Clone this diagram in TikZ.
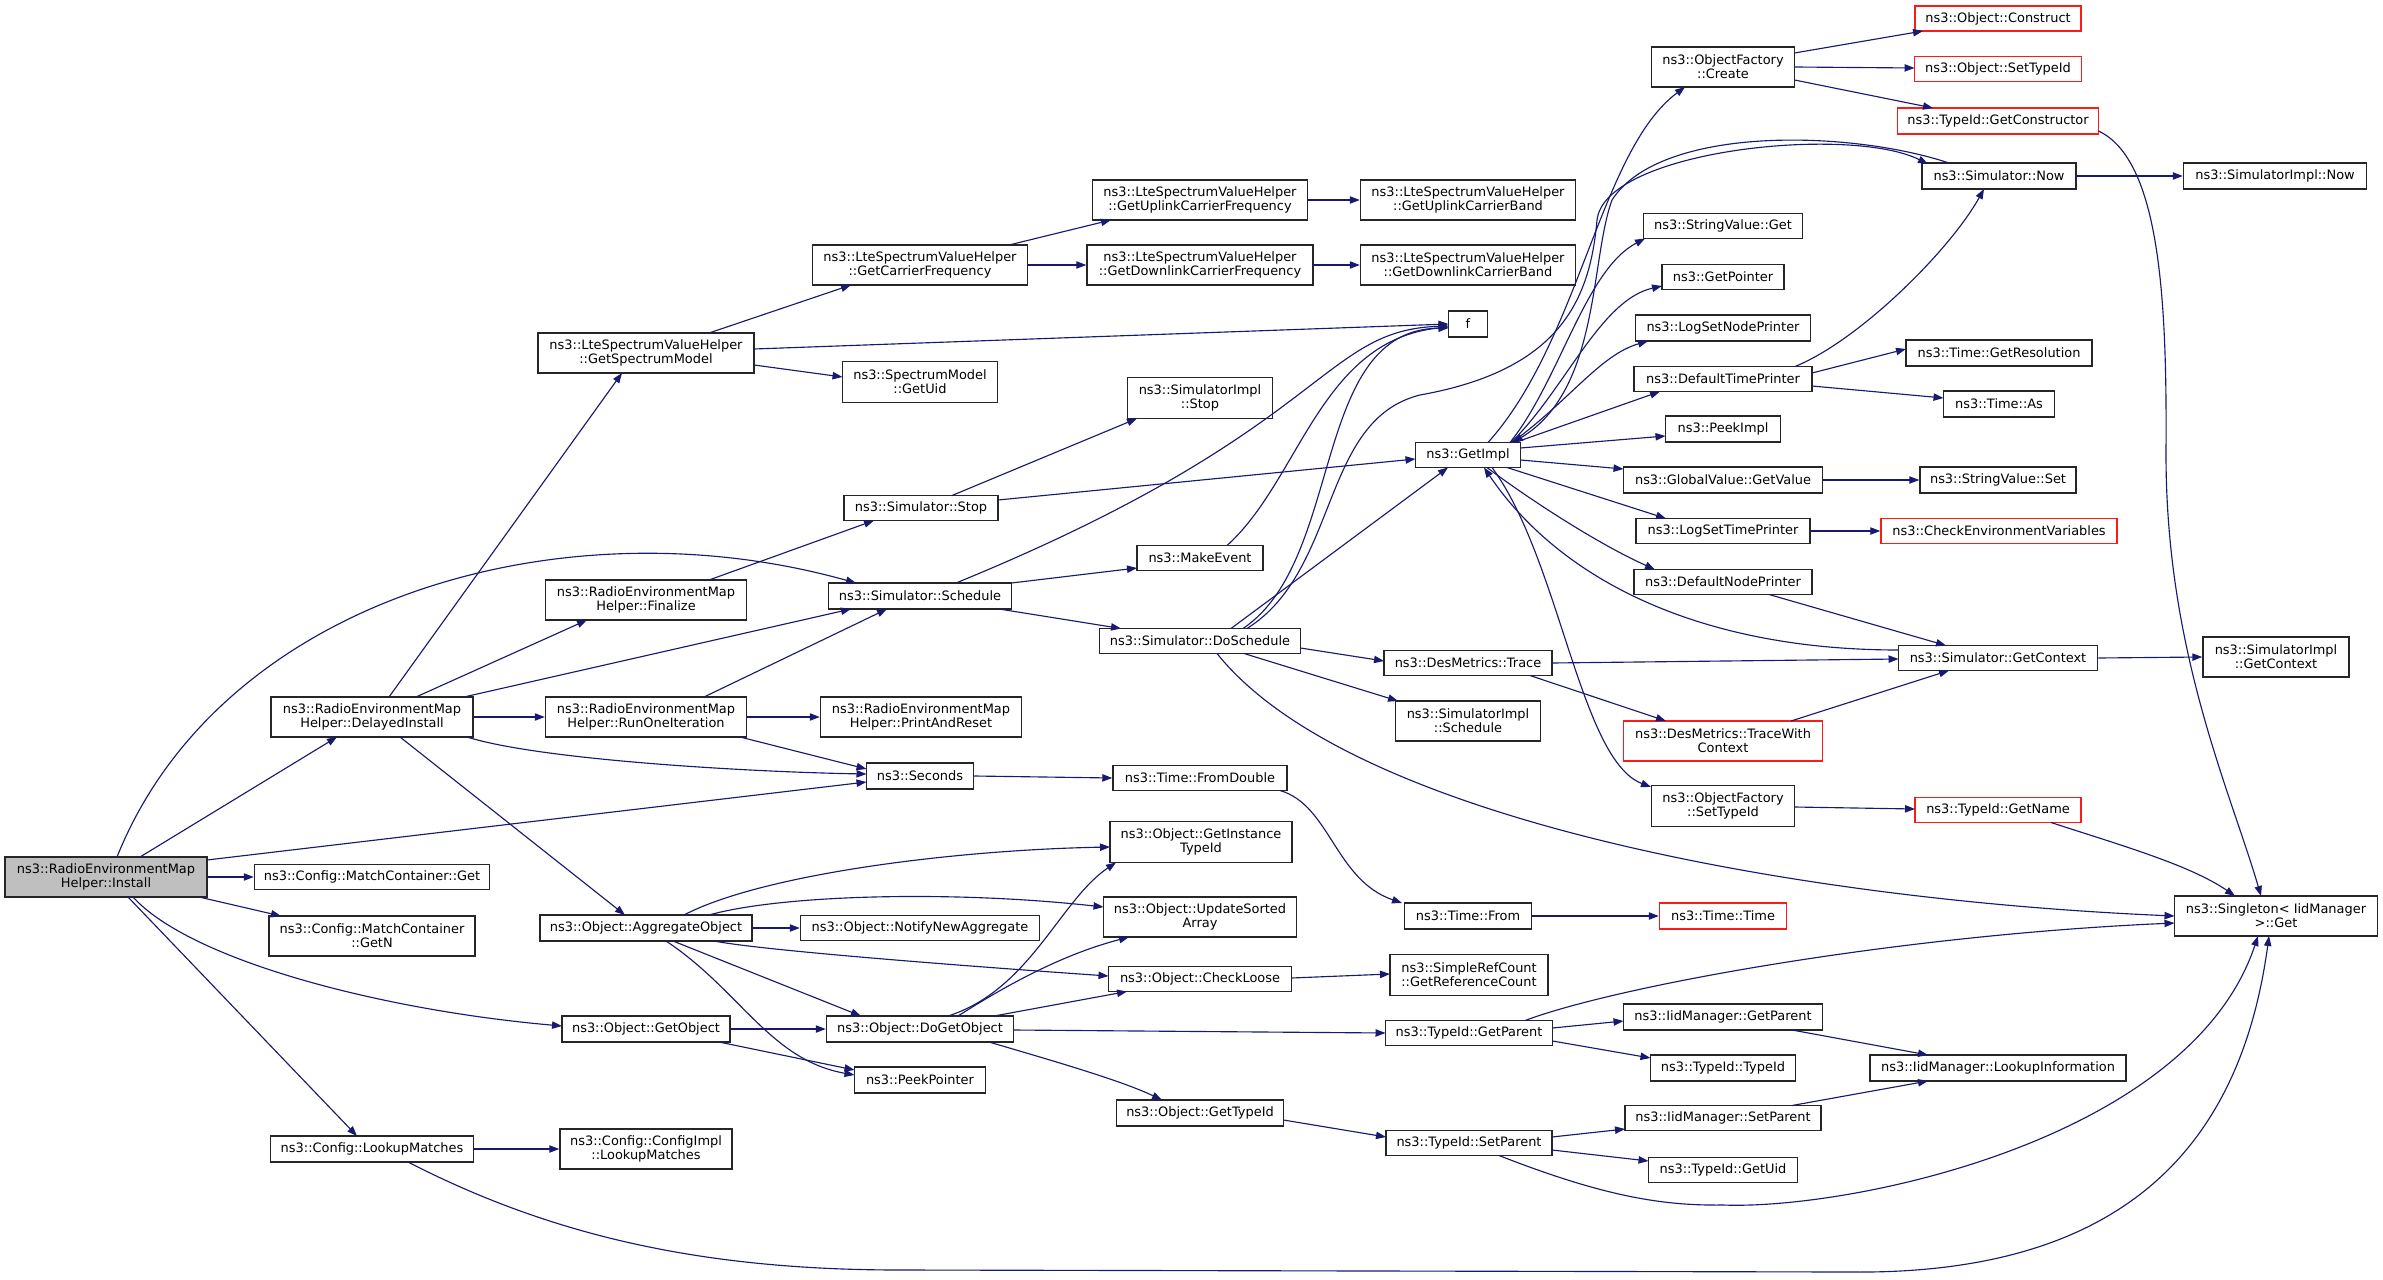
\documentclass[tikz,border=0pt]{standalone}
\usepackage{fontspec}
\setmainfont{DejaVu Sans}
\usetikzlibrary{arrows.meta,calc}
\definecolor{edgeblue}{HTML}{191970}
\definecolor{boxgray}{HTML}{262626}
\definecolor{boxred}{HTML}{FF1A1A}
\definecolor{rootgray}{HTML}{BFBFBF}
\tikzset{
  box/.style={draw=boxgray, line width=1.1pt, fill=white, inner sep=1pt, align=center,
              font=\fontsize{9.7}{10.5}\selectfont},
  redbox/.style={box, draw=boxred},
  rootbox/.style={box, fill=rootgray},
  sz/.style 2 args={minimum width=#1*0.75pt, minimum height=#2*0.75pt},
  edge/.style={draw=edgeblue, line width=0.85pt, -{Triangle[length=7.5pt,width=5.5pt]}}
}
\begin{document}
\begin{tikzpicture}[x=0.75pt,y=-0.75pt]
\fill[white] (0,0) rectangle (2383,1280);
\useasboundingbox (0,0) rectangle (2383,1280);

% nodes
\node[rootbox, sz={202}{40}] (install) at (106,877) {ns3::RadioEnvironmentMap\\Helper::Install};
\node[box, sz={202}{40}] (delayed) at (372,717) {ns3::RadioEnvironmentMap\\Helper::DelayedInstall};
\node[box, sz={235}{25}] (mcget) at (372,877) {ns3::Config::MatchContainer::Get};
\node[box, sz={206}{40}] (mcgetn) at (372,936) {ns3::Config::MatchContainer\\::GetN};
\node[box, sz={203}{26}] (lookup) at (372,1149) {ns3::Config::LookupMatches};
\node[box, sz={216}{40}] (specmodel) at (646,353) {ns3::LteSpectrumValueHelper\\::GetSpectrumModel};
\node[box, sz={201}{40}] (finalize) at (646,600) {ns3::RadioEnvironmentMap\\Helper::Finalize};
\node[box, sz={201}{40}] (runone) at (646,717) {ns3::RadioEnvironmentMap\\Helper::RunOneIteration};
\node[box, sz={212}{26}] (aggregate) at (646,928) {ns3::Object::AggregateObject};
\node[box, sz={168}{26}] (getobject) at (646,1029) {ns3::Object::GetObject};
\node[box, sz={172}{40}] (configimpl) at (646,1149) {ns3::Config::ConfigImpl\\::LookupMatches};
\node[box, sz={215}{40}] (carrierfreq) at (920,265) {ns3::LteSpectrumValueHelper\\::GetCarrierFrequency};
\node[box, sz={155}{41}] (specuid) at (920,382) {ns3::SpectrumModel\\::GetUid};
\node[box, sz={154}{25}] (simstop) at (921,508) {ns3::Simulator::Stop};
\node[box, sz={183}{26}] (schedule) at (920,596) {ns3::Simulator::Schedule};
\node[box, sz={201}{40}] (printreset) at (921,717) {ns3::RadioEnvironmentMap\\Helper::PrintAndReset};
\node[box, sz={107}{26}] (seconds) at (920,776) {ns3::Seconds};
\node[box, sz={239}{25}] (notify) at (920,928) {ns3::Object::NotifyNewAggregate};
\node[box, sz={187}{26}] (dogetobject) at (920,1029) {ns3::Object::DoGetObject};
\node[box, sz={131}{26}] (peekpointer) at (920,1080) {ns3::PeekPointer};
\node[box, sz={215}{40}] (upfreq) at (1200,200) {ns3::LteSpectrumValueHelper\\::GetUplinkCarrierFrequency};
\node[box, sz={226}{40}] (downfreq) at (1200,265) {ns3::LteSpectrumValueHelper\\::GetDownlinkCarrierFrequency};
\node[box, sz={145}{41}] (implstop) at (1200,398) {ns3::SimulatorImpl\\::Stop};
\node[box, sz={126}{25}] (makeevent) at (1200,558) {ns3::MakeEvent};
\node[box, sz={201}{25}] (doschedule) at (1200,641) {ns3::Simulator::DoSchedule};
\node[box, sz={174}{25}] (fromdouble) at (1200,778) {ns3::Time::FromDouble};
\node[box, sz={182}{41}] (instancetypeid) at (1201,842) {ns3::Object::GetInstance\\TypeId};
\node[box, sz={193}{40}] (updatesorted) at (1200,917) {ns3::Object::UpdateSorted\\Array};
\node[box, sz={183}{25}] (checkloose) at (1200,979) {ns3::Object::CheckLoose};
\node[box, sz={167}{26}] (gettypeid) at (1200,1113) {ns3::Object::GetTypeId};
\node[box, sz={215}{40}] (upband) at (1468,200) {ns3::LteSpectrumValueHelper\\::GetUplinkCarrierBand};
\node[box, sz={215}{40}] (downband) at (1468,265) {ns3::LteSpectrumValueHelper\\::GetDownlinkCarrierBand};
\node[box, sz={39}{26}] (f) at (1468,324) {f};
\node[box, sz={105}{25}] (getimpl) at (1468,455) {ns3::GetImpl};
\node[box, sz={168}{25}] (trace) at (1468,663) {ns3::DesMetrics::Trace};
\node[box, sz={145}{40}] (implschedule) at (1468,721) {ns3::SimulatorImpl\\::Schedule};
\node[box, sz={127}{26}] (timefrom) at (1468,916) {ns3::Time::From};
\node[box, sz={158}{41}] (refcount) at (1469,975) {ns3::SimpleRefCount\\::GetReferenceCount};
\node[box, sz={167}{25}] (getparent) at (1469,1033) {ns3::TypeId::GetParent};
\node[box, sz={166}{25}] (setparent) at (1469,1143) {ns3::TypeId::SetParent};
\node[box, sz={143}{40}] (create) at (1723,67) {ns3::ObjectFactory\\::Create};
\node[box, sz={159}{25}] (svget) at (1723,226) {ns3::StringValue::Get};
\node[box, sz={122}{25}] (getpointer) at (1723,277) {ns3::GetPointer};
\node[box, sz={175}{26}] (lognode) at (1723,328) {ns3::LogSetNodePrinter};
\node[box, sz={178}{25}] (deftime) at (1723,379) {ns3::DefaultTimePrinter};
\node[box, sz={115}{26}] (peekimpl) at (1723,429) {ns3::PeekImpl};
\node[box, sz={199}{26}] (gvget) at (1723,480) {ns3::GlobalValue::GetValue};
\node[box, sz={174}{25}] (logtime) at (1723,531) {ns3::LogSetTimePrinter};
\node[box, sz={178}{25}] (defnode) at (1723,582) {ns3::DefaultNodePrinter};
\node[redbox, sz={199}{40}] (tracectx) at (1723,741) {ns3::DesMetrics::TraceWith\\Context};
\node[box, sz={143}{41}] (ofsettypeid) at (1723,806) {ns3::ObjectFactory\\::SetTypeId};
\node[redbox, sz={127}{26}] (timetime) at (1723,916) {ns3::Time::Time};
\node[box, sz={199}{26}] (iidgetparent) at (1723,1017) {ns3::IidManager::GetParent};
\node[box, sz={145}{26}] (typeidtypeid) at (1723,1068) {ns3::TypeId::TypeId};
\node[box, sz={196}{25}] (iidsetparent) at (1723,1118) {ns3::IidManager::SetParent};
\node[box, sz={149}{25}] (getuid) at (1723,1170) {ns3::TypeId::GetUid};
\node[redbox, sz={166}{25}] (construct) at (1998,18.5) {ns3::Object::Construct};
\node[redbox, sz={167}{25}] (objsettypeid) at (1998,69) {ns3::Object::SetTypeId};
\node[redbox, sz={201}{26}] (getconstructor) at (1998,121) {ns3::TypeId::GetConstructor};
\node[box, sz={154}{26}] (now) at (1999,176) {ns3::Simulator::Now};
\node[box, sz={186}{26}] (getres) at (1999,353) {ns3::Time::GetResolution};
\node[box, sz={111}{26}] (timeas) at (1999,404) {ns3::Time::As};
\node[box, sz={156}{26}] (svset) at (1998,480) {ns3::StringValue::Set};
\node[redbox, sz={236}{25}] (checkenv) at (1999,531) {ns3::CheckEnvironmentVariables};
\node[box, sz={199}{25}] (getcontext) at (1998,658) {ns3::Simulator::GetContext};
\node[redbox, sz={166}{25}] (getname) at (1998,810) {ns3::TypeId::GetName};
\node[box, sz={256}{26}] (lookupinfo) at (1998,1068) {ns3::IidManager::LookupInformation};
\node[box, sz={183}{26}] (implnow) at (2275,176) {ns3::SimulatorImpl::Now};
\node[box, sz={146}{40}] (implgetcontext) at (2276,657) {ns3::SimulatorImpl\\::GetContext};
\node[box, sz={203}{40}] (singleton) at (2276,916) {ns3::Singleton< IidManager\\ >::Get};

% edges from Install
\draw[edge] ($(install)+(11,-20)$) .. controls (220,600) and (560,500) .. ($(schedule)+(-64,-13)$);
\draw[edge] ($(install)+(34,-20)$) -- ($(delayed)+(-35,20)$);
\draw[edge] ($(install)+(101,-17)$) -- ($(seconds)+(-53.5,6)$);
\draw[edge] (install.east) -- (mcget.west);
\draw[edge] ($(install)+(93,20)$) -- ($(mcgetn)+(-91,-20)$);
\draw[edge] ($(install)+(27,20)$) .. controls (190,960) and (380,1010) .. ($(getobject)+(-84,-3)$);
\draw[edge] ($(install)+(22,20)$) -- ($(lookup)+(-15,-13)$);

% DelayedInstall
\draw[edge] ($(delayed)+(17,-20)$) -- ($(specmodel)+(-24,20)$);
\draw[edge] ($(delayed)+(44,-20)$) -- ($(finalize)+(-59,20)$);
\draw[edge] ($(delayed)+(92,-20)$) -- ($(schedule)+(-69,13)$);
\draw[edge] (delayed.east) -- (runone.west);
\draw[edge] ($(delayed)+(95,20)$) .. controls (540,760) and (750,772) .. ($(seconds)+(-53.5,-2)$);
\draw[edge] ($(delayed)+(28,20)$) -- ($(aggregate)+(-21,-13)$);
\draw[edge] ($(finalize)+(63,-20)$) -- ($(simstop)+(-47,12.5)$);
\draw[edge] ($(runone)+(58,-20)$) -- ($(schedule)+(-33,13)$);
\draw[edge] (runone.east) -- (printreset.west);
\draw[edge] ($(runone)+(94,20)$) -- ($(seconds)+(-53.5,-7)$);

% spectrum
\draw[edge] ($(specmodel)+(63,-20)$) -- ($(carrierfreq)+(-69,20)$);
\draw[edge] ($(specmodel)+(108,-4)$) -- ($(f)+(-19.5,0)$);
\draw[edge] ($(specmodel)+(108,12)$) -- ($(specuid)+(-77.5,-5)$);
\draw[edge] ($(carrierfreq)+(89,-20)$) -- ($(upfreq)+(-89,20)$);
\draw[edge] (carrierfreq.east) -- (downfreq.west);
\draw[edge] (upfreq.east) -- (upband.west);
\draw[edge] (downfreq.east) -- (downband.west);

% simulator
\draw[edge] ($(simstop)+(31,-12.5)$) -- ($(implstop)+(-63,20.5)$);
\draw[edge] ($(simstop)+(77,-8)$) -- ($(getimpl)+(-52.5,4)$);
\draw[edge] ($(schedule)+(36,-13)$) .. controls (1330,430) and (1320,330) .. ($(f)+(-19.5,2)$);
\draw[edge] ($(schedule)+(91.5,-13)$) -- ($(makeevent)+(-63,10)$);
\draw[edge] ($(schedule)+(79,13)$) -- ($(doschedule)+(-79,-12.5)$);
\draw[edge] ($(makeevent)+(27,-12.5)$) .. controls (1300,480) and (1320,340) .. ($(f)+(-19.5,3)$);
\draw[edge] ($(doschedule)+(31,-12.5)$) -- ($(getimpl)+(-20,12.5)$);
\draw[edge] ($(doschedule)+(43,-12.5)$) .. controls (1345,560) and (1310,330) .. ($(f)+(-19.5,4)$);
\draw[edge] ($(doschedule)+(47,-12.5)$) .. controls (1340,570) and (1320,420) .. (1420,395)
   .. controls (1560,370) and (1590,300) .. (1597,220)
   .. controls (1605,150) and (1850,125) .. ($(now)+(-71,-12)$);
\draw[edge] ($(doschedule)+(100.5,7)$) -- ($(trace)+(-84,-2)$);
\draw[edge] ($(doschedule)+(44,12.5)$) -- ($(implschedule)+(-70,-20)$);
\draw[edge] ($(doschedule)+(17,12.5)$) .. controls (1350,820) and (1800,900) .. ($(singleton)+(-101.5,0)$);

% trace / context
\draw[edge] ($(trace)+(84,0)$) -- ($(getcontext)+(-99.5,1)$);
\draw[edge] ($(trace)+(62,12.5)$) -- ($(tracectx)+(-57,-20)$);
\draw[edge] ($(tracectx)+(68,-20)$) -- ($(getcontext)+(-49,12.5)$);
\draw[edge] ($(defnode)+(46,12.5)$) -- ($(getcontext)+(-52,-12.5)$);
\draw[edge] ($(getcontext)+(-99.5,-8)$) .. controls (1700,650) and (1560,580) .. ($(getimpl)+(16,12.5)$);
\draw[edge] (getcontext.east) -- (implgetcontext.west);

% GetImpl
\draw[edge] ($(getimpl)+(20,-12.5)$) .. controls (1580,340) and (1600,150) .. ($(create)+(-38,20)$);
\draw[edge] ($(getimpl)+(42,-12.5)$) .. controls (1560,380) and (1585,270) .. ($(svget)+(-78,12.5)$);
\draw[edge] ($(getimpl)+(43,-12.5)$) .. controls (1565,390) and (1600,300) .. ($(getpointer)+(-61,9)$);
\draw[edge] ($(getimpl)+(44,-12.5)$) .. controls (1570,400) and (1600,355) .. ($(lognode)+(-75,13)$);
\draw[edge] ($(getimpl)+(47,-12.5)$) -- ($(deftime)+(-63,12.5)$);
\draw[edge] ($(getimpl)+(52.5,-7)$) -- ($(peekimpl)+(-57.5,7)$);
\draw[edge] ($(getimpl)+(52.5,5)$) -- ($(gvget)+(-99.5,-11)$);
\draw[edge] ($(getimpl)+(39,12.5)$) -- ($(logtime)+(-57,-12.5)$);
\draw[edge] ($(getimpl)+(19,12.5)$) .. controls (1530,500) and (1600,545) .. ($(defnode)+(-68,-12.5)$);
\draw[edge] ($(getimpl)+(24,12.5)$) .. controls (1560,560) and (1580,760) .. ($(ofsettypeid)+(-72,-19)$);

% Now
\draw[edge] ($(now)+(-50,-13)$) .. controls (1850,130) and (1660,125) .. (1612,200)
   .. controls (1590,260) and (1600,390) .. ($(getimpl)+(45,-12.5)$);
\draw[edge] (now.east) -- (implnow.west);
\draw[edge] ($(deftime)+(72,-12.5)$) .. controls (1860,340) and (1950,250) .. ($(now)+(-15,13)$);
\draw[edge] ($(deftime)+(89,-6)$) -- ($(getres)+(-93,-4)$);
\draw[edge] ($(deftime)+(89,7)$) -- ($(timeas)+(-55.5,-6)$);

% ObjectFactory
\draw[edge] ($(create)+(71.5,-14)$) -- ($(construct)+(-75,12.5)$);
\draw[edge] ($(create)+(71.5,0)$) -- ($(objsettypeid)+(-83.5,-1)$);
\draw[edge] ($(create)+(71.5,13)$) -- ($(getconstructor)+(-65,-13)$);
\draw[edge] ($(getconstructor)+(100.5,10)$) .. controls (2160,160) and (2167,300) .. (2166,450)
   .. controls (2165,650) and (2230,790) .. ($(singleton)+(-15,-20)$);
\draw[edge] (gvget.east) -- (svset.west);
\draw[edge] (logtime.east) -- (checkenv.west);
\draw[edge] ($(ofsettypeid)+(71.5,1)$) -- ($(getname)+(-83,-1)$);
\draw[edge] ($(getname)+(53,12.5)$) .. controls (2120,845) and (2190,865) .. ($(singleton)+(-41,-20)$);

% time
\draw[edge] (seconds.east) -- (fromdouble.west);
\draw[edge] ($(fromdouble)+(80,12.5)$) .. controls (1330,805) and (1335,880) .. ($(timefrom)+(-66,-13)$);
\draw[edge] (timefrom.east) -- (timetime.west);

% objects
\draw[edge] ($(aggregate)+(38,-13)$) .. controls (760,875) and (950,850) .. ($(instancetypeid)+(-91,5)$);
\draw[edge] ($(aggregate)+(63,-13)$) .. controls (780,895) and (950,890) .. ($(updatesorted)+(-96.5,-10)$);
\draw[edge] (aggregate.east) -- (notify.west);
\draw[edge] ($(aggregate)+(68,13)$) .. controls (760,950) and (950,965) .. ($(checkloose)+(-91.5,-3)$);
\draw[edge] ($(aggregate)+(27,13)$) -- ($(dogetobject)+(-59,-13)$);
\draw[edge] ($(aggregate)+(20,13)$) .. controls (740,990) and (770,1060) .. ($(peekpointer)+(-65.5,-5)$);
\draw[edge] (getobject.east) -- (dogetobject.west);
\draw[edge] ($(getobject)+(73,13)$) -- ($(peekpointer)+(-65.5,-10)$);
\draw[edge] ($(dogetobject)+(28,-13)$) .. controls (1030,990) and (1060,900) .. ($(instancetypeid)+(-85,20.5)$);
\draw[edge] ($(dogetobject)+(38,-13)$) .. controls (1030,970) and (1080,950) .. ($(updatesorted)+(-71,20)$);
\draw[edge] ($(dogetobject)+(74,-13)$) -- ($(checkloose)+(-73,12.5)$);
\draw[edge] ($(dogetobject)+(93.5,1)$) -- ($(getparent)+(-83.5,0)$);
\draw[edge] ($(dogetobject)+(69,13)$) .. controls (1050,1060) and (1120,1080) .. ($(gettypeid)+(-38,-13)$);
\draw[edge] ($(checkloose)+(91.5,-1)$) -- ($(refcount)+(-79,-1)$);
\draw[edge] ($(gettypeid)+(83.5,7)$) -- ($(setparent)+(-83,-6)$);

% TypeId
\draw[edge] ($(getparent)+(83.5,-5)$) -- ($(iidgetparent)+(-99.5,4)$);
\draw[edge] ($(getparent)+(83.5,8)$) -- ($(typeidtypeid)+(-72.5,-10)$);
\draw[edge] ($(getparent)+(56,-12.5)$) .. controls (1620,985) and (1900,935) .. ($(singleton)+(-101.5,7)$);
\draw[edge] ($(setparent)+(83,-6)$) -- ($(iidsetparent)+(-98,11)$);
\draw[edge] ($(setparent)+(83,7)$) -- ($(getuid)+(-74.5,-9)$);
\draw[edge] ($(setparent)+(30,12.5)$) .. controls (1600,1195) and (1660,1206) .. (1723,1205)
   .. controls (1850,1210) and (2190,1140) .. ($(singleton)+(-18,20)$);
\draw[edge] ($(iidgetparent)+(69,13)$) -- ($(lookupinfo)+(-70,-13)$);
\draw[edge] ($(iidsetparent)+(69,-12.5)$) -- ($(lookupinfo)+(-70,13)$);

% LookupMatches
\draw[edge] (lookup.east) -- (configimpl.west);
\draw[edge] ($(lookup)+(36,13)$) .. controls (550,1235) and (700,1270) .. (900,1270) -- (1850,1272)
   .. controls (2120,1275) and (2240,1150) .. ($(singleton)+(-7,20)$);
\end{tikzpicture}
\end{document}
